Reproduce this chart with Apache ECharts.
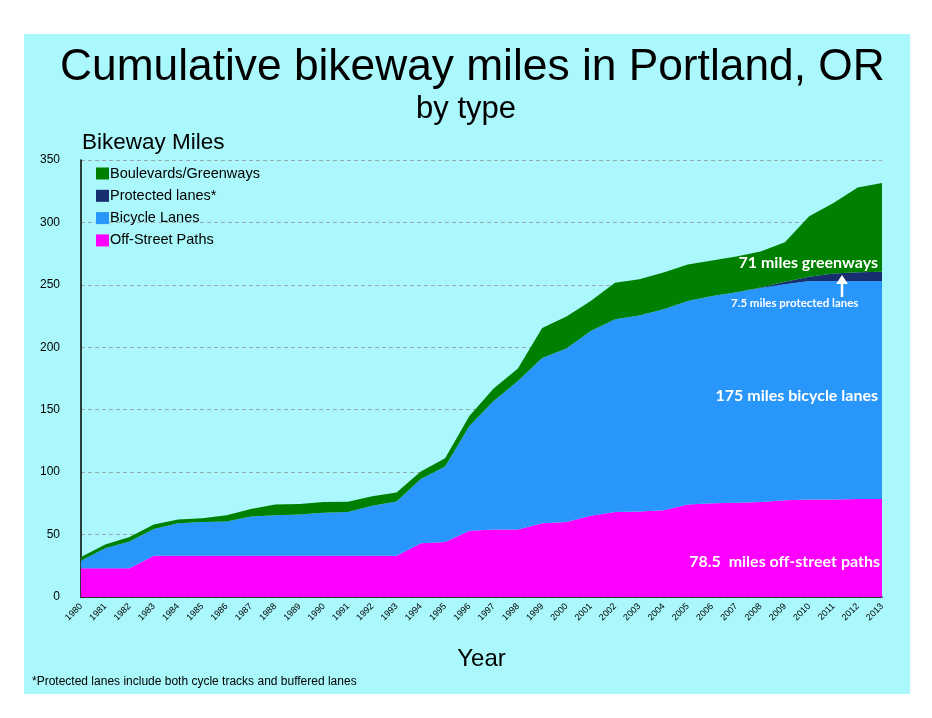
<!DOCTYPE html>
<html>
<head>
<meta charset="utf-8">
<script src="https://cdn.jsdelivr.net/npm/echarts@6/dist/echarts.min.js"></script>
<style>
	html, body { margin: 0; padding: 0; background: #ffffff; }
	#panel { position: absolute; left: 24px; top: 34px; width: 886px; height: 660px; background: #aaf8fb; }
	#main { position: absolute; left: 0; top: 0; width: 932px; height: 718px; }
</style>
</head>
<body>
<div id="panel"></div>
<div id="main"></div>
<script>
var years = ['1980', '1981', '1982', '1983', '1984', '1985', '1986', '1987', '1988', '1989',
	'1990', '1991', '1992', '1993', '1994', '1995', '1996', '1997', '1998', '1999',
	'2000', '2001', '2002', '2003', '2004', '2005', '2006', '2007', '2008', '2009',
	'2010', '2011', '2012', '2013'];

var offStreet = [23, 23, 23, 33, 33, 33, 33, 33, 33, 33,
	33, 33, 33, 33, 43, 44, 53, 54, 54, 59,
	60, 65, 68, 68.5, 69.5, 74, 75, 75.5, 76, 77.5,
	78, 78, 78.5, 78.5];

var bikeLanes = [6, 16, 21.5, 21.5, 26, 27, 27.5, 31.5, 32.5, 33,
	34.5, 35, 40, 43.5, 51.5, 60.5, 84, 103, 119, 132.5,
	139, 148, 154.5, 157, 161, 163, 166, 168.5, 171.5, 173,
	175, 175, 174.5, 174.5];

var protectedLanes = [0, 0, 0, 0, 0, 0, 0, 0, 0, 0,
	0, 0, 0, 0, 0, 0, 0, 0, 0, 0,
	0, 0, 0, 0, 0, 0, 0, 0, 0.3, 2,
	3.5, 6, 7, 7.5];

var greenways = [3, 3, 3.5, 3.5, 3, 3, 5, 6, 8.5, 8.5,
	8.5, 8.2, 7.6, 7.2, 6.1, 6.7, 8, 10, 10, 24,
	25.7, 24, 29.2, 28.9, 29.4, 29.4, 28.6, 28.8, 29, 31.6,
	48.5, 56.6, 68, 71];

var legendNames = ['Boulevards/Greenways', 'Protected lanes*', 'Bicycle Lanes', 'Off-Street Paths'];

function areaSeries(name, data, color) {
	return {
		name: name,
		type: 'line',
		stack: 'total',
		data: data,
		symbol: 'none',
		lineStyle: { width: 0 },
		areaStyle: { color: color, opacity: 1 },
		itemStyle: { color: color }
	};
}

var labelFont = 'bold 16px Lato, sans-serif';

var mychart = echarts.init(document.getElementById('main'));
var option = {
	backgroundColor: 'transparent',
	animation: false,
	textStyle: { fontFamily: 'Liberation Sans, Arial, sans-serif' },
	title: [{
		text: 'Cumulative bikeway miles in Portland, OR',
		left: 55,
		top: 41,
		textStyle: { fontSize: 44.3, fontWeight: 'normal', color: '#000' }
	}, {
		text: 'by type',
		left: 'center',
		top: 89,
		textStyle: { fontSize: 31, fontWeight: 'normal', color: '#000' }
	}, {
		text: 'Bikeway Miles',
		left: 77,
		top: 126,
		textStyle: { fontSize: 22.5, fontWeight: 'normal', color: '#000' }
	}, {
		text: '*Protected lanes include both cycle tracks and buffered lanes',
		left: 27,
		top: 671,
		textStyle: { fontSize: 12, fontWeight: 'normal', color: '#000' }
	}],
	legend: {
		data: legendNames,
		orient: 'vertical',
		left: 91,
		top: 161,
		itemWidth: 13,
		itemHeight: 12,
		itemGap: 7.3,
		icon: 'rect',
		textStyle: { fontSize: 14.5, color: '#000', padding: [0, 0, 0, -4] }
	},
	grid: {
		left: 81,
		right: 50,
		top: 160,
		bottom: 121
	},
	xAxis: {
		type: 'category',
		boundaryGap: false,
		data: years,
		name: 'Year',
		nameLocation: 'middle',
		nameGap: 50,
		nameTextStyle: { fontSize: 24, color: '#000' },
		axisLine: { lineStyle: { color: '#000', width: 1.5 } },
		axisTick: { show: false },
		axisLabel: { rotate: 45, interval: 0, fontSize: 9, color: '#000', margin: 8 }
	},
	yAxis: {
		type: 'value',
		min: 0,
		max: 350,
		interval: 50,
		axisLine: { show: true, lineStyle: { color: '#000', width: 1.5 } },
		axisTick: { show: false },
		axisLabel: { fontSize: 12, color: '#000', margin: 21 },
		splitLine: { lineStyle: { color: '#9aa', type: [4, 3] } }
	},
	series: [
		areaSeries('Off-Street Paths', offStreet, '#ff00ff'),
		areaSeries('Bicycle Lanes', bikeLanes, '#2996fc'),
		areaSeries('Protected lanes*', protectedLanes, '#172f6e'),
		areaSeries('Boulevards/Greenways', greenways, '#008000')
	],
	graphic: [{
		type: 'text',
		z: 100,
		right: 54,
		top: 255,
		style: { text: '71 miles greenways', fill: '#fff', font: labelFont }
	}, {
		type: 'text',
		z: 100,
		left: 731,
		top: 297,
		style: { text: '7.5 miles protected lanes', fill: '#fff', font: 'bold 11.5px Lato, sans-serif' }
	}, {
		type: 'line',
		z: 100,
		shape: { x1: 842, y1: 297, x2: 842, y2: 282 },
		style: { stroke: '#fff', lineWidth: 2.5 }
	}, {
		type: 'polygon',
		z: 100,
		shape: { points: [[836, 284], [848, 284], [842, 275]] },
		style: { fill: '#fff' }
	}, {
		type: 'text',
		z: 100,
		right: 54,
		top: 388,
		style: { text: '175 miles bicycle lanes', fill: '#fff', font: labelFont }
	}, {
		type: 'text',
		z: 100,
		right: 52,
		top: 554,
		style: { text: '78.5  miles off-street paths', fill: '#fff', font: labelFont }
	}]
};
mychart.setOption(option);
</script>
</body>
</html>
